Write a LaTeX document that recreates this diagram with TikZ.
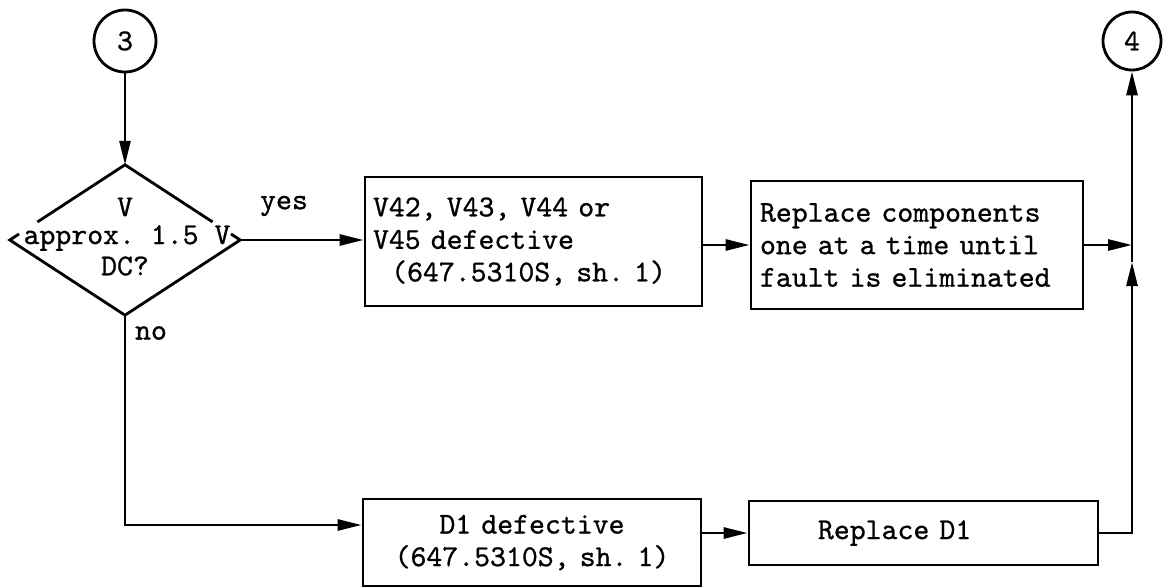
\documentclass[tikz,border=0pt]{standalone}
\usepackage{fontspec}
\setmonofont{lmmono10-regular.otf}[FakeBold=0.8,WordSpace={1,0,0}]
\frenchspacing
\usetikzlibrary{arrows.meta,shapes.geometric,calc}
\begin{document}
\begin{tikzpicture}[x=1pt,y=-1pt,
  every node/.style={font=\ttfamily\frenchspacing\fontsize{30.3}{32.5}\selectfont},
  line/.style={line width=2.8pt},
  arr/.style={line width=2.8pt,-{Triangle[length=24pt,width=11pt]}},
  box/.style={draw,line width=2.8pt,rectangle,inner ysep=0pt},
  conn/.style={draw,circle,line width=2.8pt,inner sep=0pt}]
\useasboundingbox (0,0) rectangle (1169,588);

% connectors (circles)
\node[conn,minimum size=62pt] (c3) at (125,41) {3};
\node[conn,minimum size=58pt] (c4) at (1132,41) {4};

% decision
\node[diamond,minimum width=230pt,minimum height=150pt,inner sep=0pt] (d) at (125,240) {};
\draw[line] ($(d.west)!0.08!(d.north)$) -- (d.west) -- (d.south) -- (d.east) -- ($(d.east)!0.08!(d.north)$);
\draw[line] ($(d.north)!0.76!(d.west)$) -- (d.north) -- ($(d.north)!0.76!(d.east)$);
\node (dv) at (125,207) {V};
\node (dm) at (127,238) {approx. 1.5 V};
\node (dq) at (125,266) {DC?};

% boxes
\node[box,minimum width=337pt,minimum height=129pt,text width=321pt,inner xsep=8pt,align=left] (b1) at (533.5,241.5)
  {V42, V43, V44 or\\V45 defective\\\hspace*{0.6em}(647.5310S, sh. 1)};
\node[box,minimum width=332pt,minimum height=128pt,text width=314pt,inner xsep=9pt,align=left] (b2) at (917,245)
  {Replace components\\one at a time until\\fault is eliminated};
\node[box,minimum width=338pt,minimum height=87pt,text width=320pt,inner xsep=9pt,align=center] (b3) at (532,542.5)
  {D1 defective\\(647.5310S, sh. 1)};
\node[box,minimum width=349pt,minimum height=64pt,text width=211pt,inner xsep=69pt,align=left] (b4) at (923.5,533)
  {Replace D1};

% labels
\node (yes) at (284,206) {yes};
\node (no) at (151,333) {no};

% junction points on the right
\coordinate (j1) at (1132,245);
\coordinate (j2) at (1132,262);

% arrows
\draw[arr] (c3.south) -- (d.north);
\draw[arr] (d.east) -- (d.east -| b1.west);
\draw[arr] (b1.east |- b2.west) -- (b2.west);
\draw[arr] (b2.east) -- (b2.east -| j1);
\draw[arr] (j2) -- (c4.south);
\draw[arr] (b4.east) -| (j2);
\draw[arr] (d.south) |- ([yshift=17.5pt]b3.west);
\draw[arr] (b3.east |- b4.west) -- (b4.west);
\end{tikzpicture}
\end{document}
